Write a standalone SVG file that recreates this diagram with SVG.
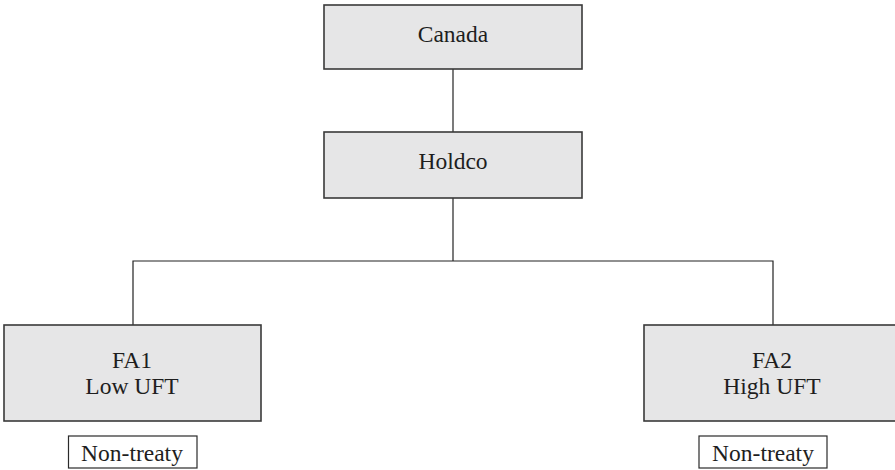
<svg xmlns="http://www.w3.org/2000/svg" width="895" height="470" viewBox="0 0 895 470">
<style>
.box{fill:#e6e6e7;stroke:#3a3a3a;stroke-width:1.6}
.tag{fill:#ffffff;stroke:#2a2a2a;stroke-width:1.2}
.t{font-family:"Liberation Serif","Times New Roman",serif;font-size:23.5px;fill:#1e1e1e;text-anchor:middle}
.c{stroke:#222;stroke-width:1.2;fill:none}
</style>
<rect width="895" height="470" fill="#ffffff"/>
<g id="connectors">
<line class="c" x1="453" y1="69" x2="453" y2="132"/>
<line class="c" x1="453" y1="198" x2="453" y2="261"/>
<polyline class="c" points="133,325 133,261 773,261 773,325"/>
</g>
<g id="canada">
<rect class="box" x="324" y="5" width="258" height="64"/>
<text class="t" x="453" y="42">Canada</text>
</g>
<g id="holdco">
<rect class="box" x="324" y="132" width="258" height="66"/>
<text class="t" x="453" y="169">Holdco</text>
</g>
<g id="fa1">
<rect class="box" x="4" y="325" width="257" height="96"/>
<text class="t" x="132" y="368">FA1</text>
<text class="t" x="132" y="394">Low UFT</text>
</g>
<g id="fa2">
<rect class="box" x="644" y="325" width="260" height="96"/>
<text class="t" x="772" y="368">FA2</text>
<text class="t" x="772" y="394">High UFT</text>
</g>
<g id="fa1-tag">
<rect class="tag" x="68.5" y="436" width="128.5" height="32"/>
<text class="t" x="132" y="461">Non-treaty</text>
</g>
<g id="fa2-tag">
<rect class="tag" x="699" y="436" width="128" height="32"/>
<text class="t" x="763" y="461">Non-treaty</text>
</g>
</svg>
